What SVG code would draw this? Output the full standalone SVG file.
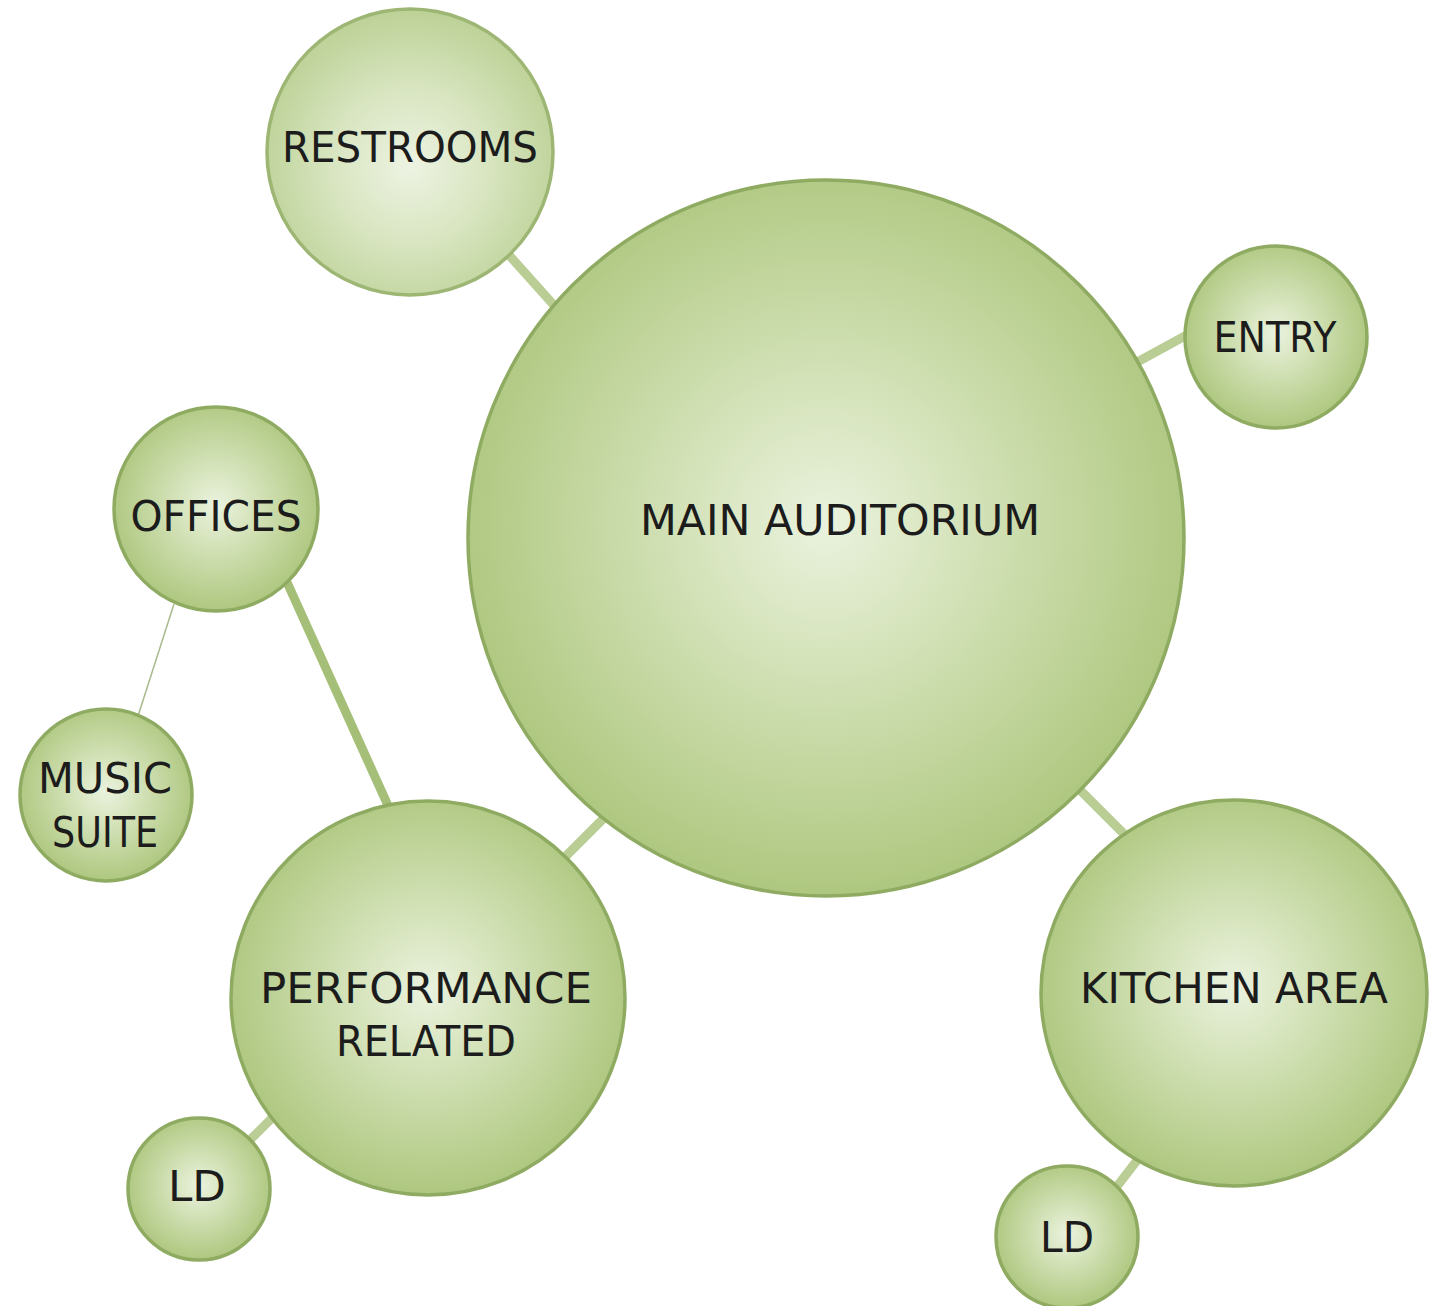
<svg xmlns="http://www.w3.org/2000/svg" width="1445" height="1306" viewBox="0 0 1445 1306">
<defs>
<radialGradient id="g" cx="0.5" cy="0.48" r="0.52" fx="0.5" fy="0.48">
<stop offset="0" stop-color="#eaf2de"/>
<stop offset="0.35" stop-color="#d6e4bc"/>
<stop offset="1" stop-color="#aec77f"/>
</radialGradient>
<radialGradient id="gl" cx="0.5" cy="0.55" r="0.55">
<stop offset="0" stop-color="#edf3e2"/>
<stop offset="0.5" stop-color="#d8e5c0"/>
<stop offset="1" stop-color="#bcd196"/>
</radialGradient>
</defs>
<style>
.n{fill:url(#g);stroke:#8fab62;stroke-width:3.5}
.nl{fill:url(#gl);stroke:#9db674;stroke-width:3.5}
.c{stroke:#b9cd94;stroke-width:9;stroke-linecap:butt}
.c2{stroke:#a6bf78;stroke-width:9}
.t{stroke:#a9b98e;stroke-width:1.5}
text{font-family:"DejaVu Sans","Liberation Sans",sans-serif;font-size:42px;fill:#1c1c1c;text-anchor:middle}
</style>
<rect width="1445" height="1306" fill="#ffffff"/>
<g id="connectors">
<line class="c" x1="500" y1="245" x2="560" y2="312"/>
<line class="c" x1="1130" y1="366" x2="1196" y2="330"/>
<line class="c2" x1="286" y1="580" x2="390" y2="810"/>
<line class="t" x1="174" y1="604" x2="138" y2="716"/>
<line class="c" x1="556" y1="866" x2="612" y2="810"/>
<line class="c" x1="1076" y1="786" x2="1128" y2="838"/>
<line class="c" x1="240" y1="1150" x2="282" y2="1108"/>
<line class="c" x1="1108" y1="1198" x2="1142" y2="1154"/>
</g>
<g id="restrooms"><circle class="nl" cx="410" cy="152" r="143"/><text x="410" y="162" textLength="256" lengthAdjust="spacingAndGlyphs">RESTROOMS</text></g>
<g id="main-auditorium"><circle class="n" cx="826" cy="538" r="358"/><text x="840" y="535" textLength="400" lengthAdjust="spacingAndGlyphs">MAIN AUDITORIUM</text></g>
<g id="entry"><circle class="n" cx="1276" cy="337" r="91"/><text x="1275" y="352" textLength="123" lengthAdjust="spacingAndGlyphs">ENTRY</text></g>
<g id="offices"><circle class="n" cx="216" cy="509" r="102"/><text x="216" y="531" textLength="171" lengthAdjust="spacingAndGlyphs">OFFICES</text></g>
<g id="music-suite"><circle class="n" cx="106" cy="795" r="86"/><text x="105" y="793" textLength="134" lengthAdjust="spacingAndGlyphs">MUSIC</text><text x="105" y="847" textLength="106" lengthAdjust="spacingAndGlyphs">SUITE</text></g>
<g id="performance-related"><circle class="n" cx="428" cy="998" r="197"/><text x="426" y="1003" textLength="332" lengthAdjust="spacingAndGlyphs">PERFORMANCE</text><text x="426" y="1056" textLength="180" lengthAdjust="spacingAndGlyphs">RELATED</text></g>
<g id="kitchen-area"><circle class="n" cx="1234" cy="993" r="193"/><text x="1234" y="1003" textLength="308" lengthAdjust="spacingAndGlyphs">KITCHEN AREA</text></g>
<g id="ld-left"><circle class="n" cx="199" cy="1189" r="71"/><text x="197" y="1201" textLength="58" lengthAdjust="spacingAndGlyphs">LD</text></g>
<g id="ld-right"><circle class="n" cx="1067" cy="1237" r="71"/><text x="1067" y="1252" textLength="54" lengthAdjust="spacingAndGlyphs">LD</text></g>
</svg>
